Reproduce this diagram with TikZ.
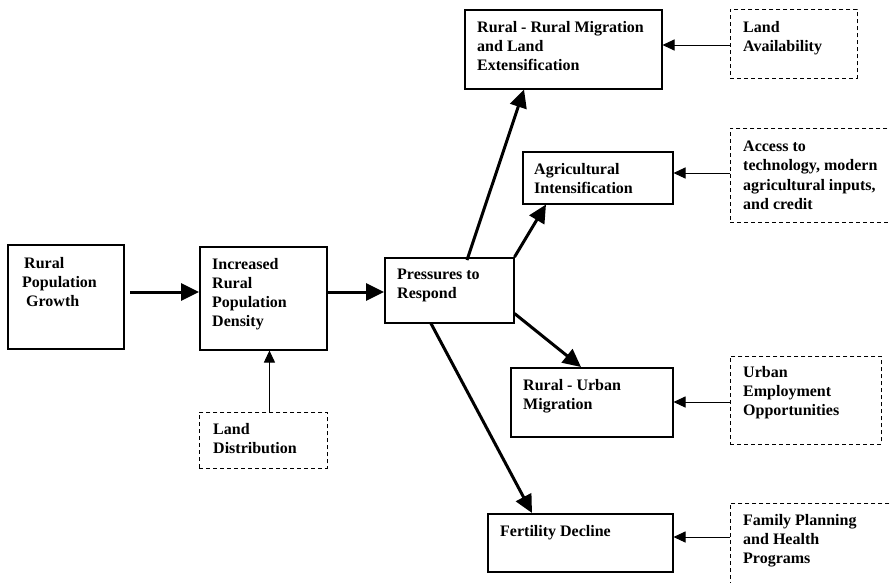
\documentclass[tikz,border=0pt]{standalone}
\usepackage{fontspec}
\setmainfont{Liberation Serif}
\usetikzlibrary{arrows.meta,calc}
\begin{document}
\begin{tikzpicture}[x=1pt,y=-1pt,
  box/.style={draw, line width=1.5pt, rectangle, inner sep=0pt, anchor=north west},
  dbox/.style={draw, line width=0.9pt, dash pattern=on 4pt off 3pt, rectangle, inner sep=0pt, anchor=north west},
  txt/.style={anchor=north west, inner sep=0pt, align=left, font=\fontsize{16}{19.2}\selectfont\bfseries},
  bigarrow/.style={line width=3pt, -{Triangle[length=18pt,width=17pt]}},
  smallarrow/.style={line width=1pt, -{Triangle[length=12pt,width=11pt]}}]
\path[use as bounding box, clip] (0,0) rectangle (890,582);
\fill[white] (0,0) rectangle (890,582);
% solid boxes
\node[box, minimum width=116pt, minimum height=104pt] (rpg) at (7,244) {};
\node[box, minimum width=127pt, minimum height=103pt] (ird) at (199,246) {};
\node[box, minimum width=129pt, minimum height=65pt] (pres) at (384,257) {};
\node[box, minimum width=197pt, minimum height=79pt] (rr) at (464,9) {};
\node[box, minimum width=150pt, minimum height=52pt] (ag) at (522,151) {};
\node[box, minimum width=162pt, minimum height=69pt] (ru) at (510,367) {};
\node[box, minimum width=185pt, minimum height=58pt] (fd) at (487,513) {};
% dashed boxes
\node[dbox, minimum width=128pt, minimum height=56pt] (ld) at (199,412) {};
\node[dbox, minimum width=127pt, minimum height=69pt] (la) at (730,9) {};
\node[dbox, minimum width=175pt, minimum height=94pt] (ac) at (730,128) {};
\node[dbox, minimum width=151pt, minimum height=88pt] (ue) at (730,356) {};
\node[dbox, minimum width=175pt, minimum height=110pt] (fp) at (730,503) {};
% texts
\node[txt] (t1) at (22,257) {\hspace{2pt}Rural\\Population\\\hspace{4pt}Growth};
\node[txt] (t2) at (212,258) {Increased\\Rural\\Population\\Density};
\node[txt] (t3) at (213,423) {Land\\Distribution};
\node[txt] (t4) at (397,269) {Pressures to\\Respond};
\node[txt] (t5) at (477,21) {Rural - Rural Migration\\and Land\\Extensification};
\node[txt] (t6) at (743,21) {Land\\Availability};
\node[txt] (t7) at (534,163) {Agricultural\\Intensification};
\node[txt] (t8) at (743,141) {Access to\\technology, modern\\agricultural inputs,\\and credit};
\node[txt] (t9) at (523,379) {Rural - Urban\\Migration};
\node[txt] (t10) at (743,366) {Urban\\Employment\\Opportunities};
\node[txt] (t11) at (500,525) {Fertility Decline};
\node[txt] (t12) at (743,514) {Family Planning\\and Health\\Programs};
% thick arrows
\coordinate (a1s) at (130,292);
\draw[bigarrow] (a1s) -- (a1s -| ird.west);
\coordinate (a2s) at (326,292);
\draw[bigarrow] (a2s) -- (a2s -| pres.west);
\draw[bigarrow] ([xshift=83pt,yshift=-3pt]pres.north west) -- ([xshift=60pt]rr.south west);
\draw[bigarrow] (pres.north east) -- ([xshift=24pt]ag.south west);
\draw[bigarrow] ([yshift=10pt]pres.south east) -- ([xshift=71pt]ru.north west);
\draw[bigarrow] ([xshift=47pt]pres.south west) -- ([xshift=45pt]fd.north west);
% thin arrows
\draw[smallarrow] ([xshift=6pt]ld.north) -- ([xshift=6pt]ld.north |- ird.south);
\draw[smallarrow] ([yshift=-36pt]la.north west) -- ([yshift=-36pt]la.north west -| rr.east);
\draw[smallarrow] ([yshift=-45pt]ac.north west) -- ([yshift=-45pt]ac.north west -| ag.east);
\draw[smallarrow] ([yshift=-46pt]ue.north west) -- ([yshift=-46pt]ue.north west -| ru.east);
\draw[smallarrow] ([yshift=-34pt]fp.north west) -- ([yshift=-34pt]fp.north west -| fd.east);
\end{tikzpicture}
\end{document}
